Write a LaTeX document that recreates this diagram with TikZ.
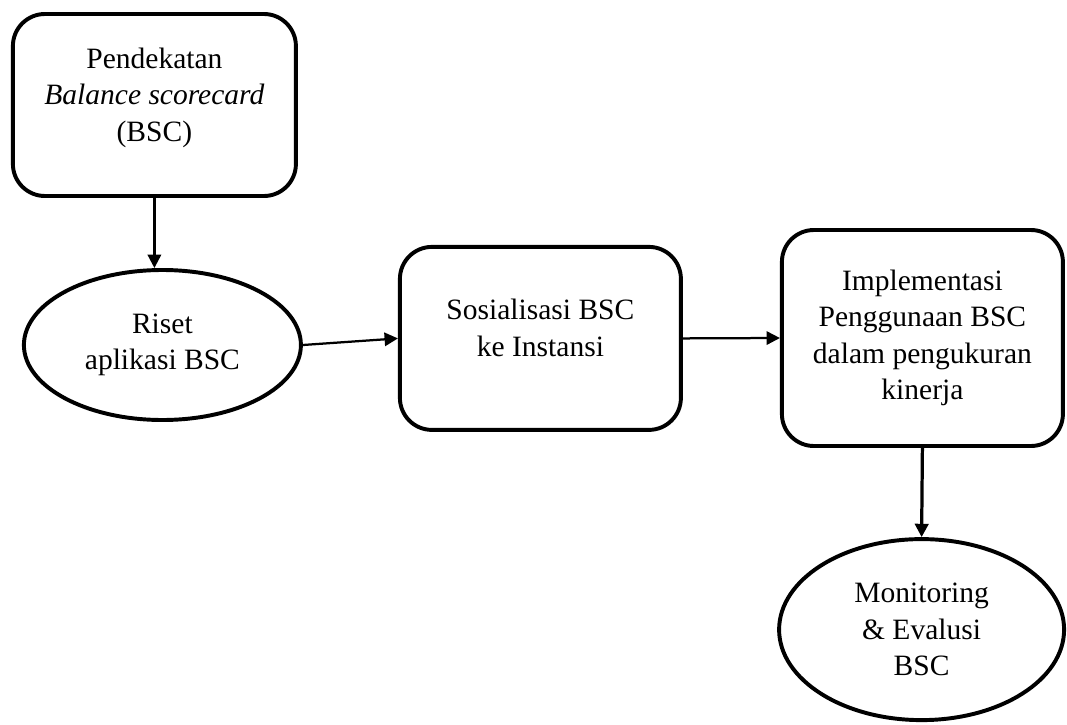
\documentclass[tikz,border=0pt]{standalone}
\usepackage{fontspec}
\setmainfont{Liberation Serif}
\usetikzlibrary{arrows.meta,shapes.geometric}

\begin{document}
\begin{tikzpicture}[
  box/.style={draw, line width=2.8pt, rounded corners=0.8cm, align=center, font=\fontsize{21}{26}\selectfont},
  oval/.style={draw, ellipse, line width=2.8pt, inner sep=0pt, align=center, font=\fontsize{21}{26}\selectfont},
  arr/.style={-{Triangle[length=9.5pt,width=9.5pt]}, line width=1.6pt}
]
\useasboundingbox (0,0) rectangle (26.675,-18.1);

% text in the boxes sits a little above the middle
\node[box, minimum width=7.075cm, minimum height=4.55cm] (pend) at (3.86,-2.625)
  {Pendekatan\\ \textit{Balance scorecard}\\ (BSC)\\[-11pt]\mbox{}};
\node[oval, minimum width=6.925cm, minimum height=3.75cm] (riset) at (4.06,-8.625)
  {Riset\\ aplikasi BSC};
\node[box, minimum width=7.025cm, minimum height=4.575cm] (sos) at (13.51,-8.46)
  {Sosialisasi BSC\\ ke Instansi\\[-11pt]\mbox{}};
\node[box, minimum width=7.025cm, minimum height=5.4cm] (impl) at (23.06,-8.45)
  {Implementasi\\ Penggunaan BSC\\ dalam pengukuran\\ kinerja};
\node[oval, minimum width=7.125cm, minimum height=4.525cm] (mon) at (23.04,-15.74)
  {Monitoring\\ \& Evalusi\\ BSC};

\draw[arr] (pend.south) -- (pend.south |- riset.north);
\draw[arr] (riset.east) -- (sos.west);
\draw[arr] (sos.east) -- (impl.west);
\draw[arr, line width=2.3pt] (impl.south) -- (mon.north);

\end{tikzpicture}
\end{document}
